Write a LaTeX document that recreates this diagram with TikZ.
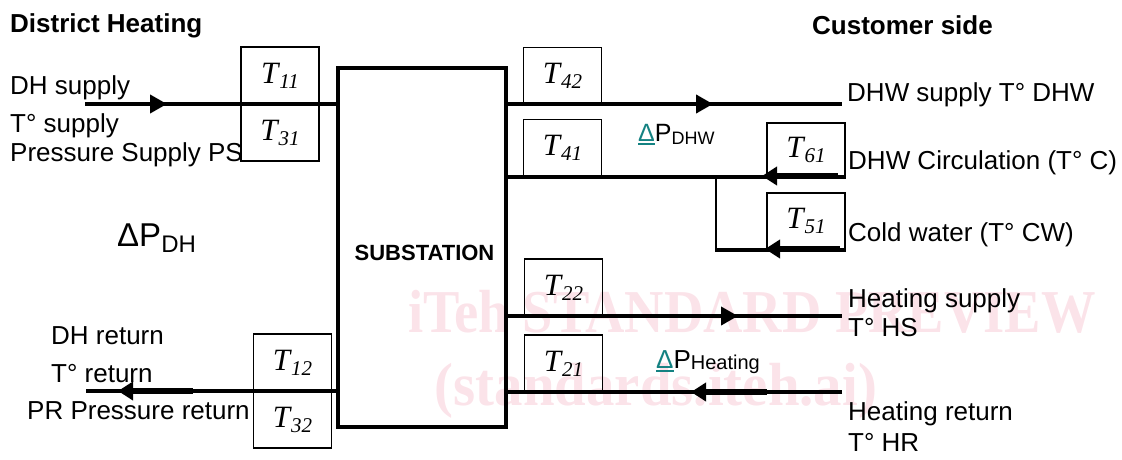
\documentclass[tikz,border=0pt]{standalone}
\usepackage[no-math]{fontspec}
\usepackage{graphicx}
\setmainfont{Liberation Sans}
\newfontfamily\wmfont{Liberation Serif}
\usetikzlibrary{arrows.meta,calc}
\definecolor{wmpink}{RGB}{251,227,233}
\definecolor{dteal}{RGB}{20,130,130}
\newcommand{\tdelta}{\textcolor{dteal}{\setbox0\hbox{Δ}\rlap{\rule[-3.5pt]{\wd0}{1.8pt}}\box0}}
\newcommand{\tlab}[1]{{\wmfont\itshape\fontsize{31}{34}\selectfont T\kern1pt\raisebox{-5pt}{\fontsize{21}{23}\selectfont #1}}}
\begin{document}
\begin{tikzpicture}[x=1pt,y=-1pt,
  txt/.style={anchor=base west, inner sep=0pt, font=\fontsize{26}{30}\selectfont},
  hdr/.style={anchor=base west, inner sep=0pt, font=\bfseries\fontsize{26}{30}\selectfont},
  tbox/.style={draw, line width=1.5pt, minimum width=78pt, minimum height=57pt, inner sep=0pt},
  subbox/.style={draw, line width=4pt, minimum width=168pt, minimum height=359pt, inner sep=0pt},
  wm/.style={anchor=base, inner sep=0pt, text=wmpink, font=\wmfont\bfseries\fontsize{58}{60}\selectfont},
  pipe/.style={line width=4pt},
  thin pipe/.style={line width=2pt},
  fwd/.style={line width=4pt, -{Triangle[length=17pt,width=18pt]}},
  back/.style={line width=6pt, -{Triangle[length=15pt,width=18pt]}},
]
\useasboundingbox (0,0) rectangle (1122,460);

% watermark
\node[wm] (wm1) at (752,332) {\scalebox{0.94}[1.05]{iTeh STANDARD PREVIEW}};
\node[wm] (wm2) at (656,405) {\scalebox{0.98}[1.05]{(standards.iteh.ai)}};

% headers
\node[hdr] (hdh) at (10,33) {District Heating};
\node[hdr] (hcs) at (812,35) {Customer side};

% substation
\node[subbox] (sub) at (422,247.5) {};
\node[anchor=base, inner sep=0pt, font=\bfseries\fontsize{22}{26}\selectfont] (sublbl) at (424.5,260) {SUBSTATION};

% T boxes
\node[tbox] (t11) at (280,75.5) {\tlab{11}};
\node[tbox] (t31) at (280,132.5) {\tlab{31}};
\node[tbox] (t42) at (562.5,76) {\tlab{42}};
\node[tbox] (t41) at (562.5,148) {\tlab{41}};
\node[tbox, minimum height=53pt] (t61) at (806,149.5) {\tlab{61}};
\node[tbox, minimum height=56pt] (t51) at (806,221) {\tlab{51}};
\node[tbox] (t22) at (563.5,287.5) {\tlab{22}};
\node[tbox] (t21) at (563.5,363.5) {\tlab{21}};
\node[tbox] (t12) at (292.5,362.5) {\tlab{12}};
\node[tbox] (t32) at (292.5,419.5) {\tlab{32}};

% coordinates
\coordinate (dhs) at (85,104);
\coordinate (dhsA) at (167,104);
\coordinate (dhsB) at (130,104);
\coordinate (dhr) at (86,391);
\coordinate (dhrA) at (118,391);
\coordinate (dhrB) at (193,391);
\coordinate (dhws) at (842,104);
\coordinate (dhwsA) at (713,104);
\coordinate (dhwsB) at (680,104);
\coordinate (circA) at (762,176);
\coordinate (circB) at (838,176);
\coordinate (jn) at (716,176);
\coordinate (cwA) at (765,249);
\coordinate (cwB) at (840,249);
\coordinate (hs) at (842,316);
\coordinate (hsA) at (738,316);
\coordinate (hsB) at (700,316);
\coordinate (hr) at (842,392);
\coordinate (hrA) at (691,392);
\coordinate (hrB) at (767,392);

% pipes
\draw[pipe] (dhs) -- (dhs -| sub.west);
\draw[pipe] (dhr -| sub.west) -- (dhr);
\draw[pipe] (dhws -| sub.east) -- (dhws);
\draw[pipe] (t61.south east) -- (t61.south east -| sub.east);
\draw[thin pipe] (jn) -- (jn |- t51.south);
\draw[pipe] ([xshift=-1pt]jn |- t51.south) -- (t51.south east);
\draw[pipe] (hs -| sub.east) -- (hs);
\draw[pipe] (hr) -- (hr -| sub.east);

% arrows
\draw[fwd] (dhsB) -- (dhsA);
\draw[back] (dhrB) -- (dhrA);
\draw[fwd] (dhwsB) -- (dhwsA);
\draw[back] (circB) -- (circA);
\draw[back] (cwB) -- (cwA);
\draw[fwd] (hsB) -- (hsA);
\draw[back] (hrB) -- (hrA);

% left texts
\node[txt] (l1) at (10,94) {DH supply};
\node[txt] (l2) at (10,132) {T° supply};
\node[txt] (l3) at (10,161) {Pressure Supply PS};
\node[txt] (l4) at (51,344) {DH return};
\node[txt] (l5) at (51,382) {T° return};
\node[txt] (l6) at (27,419) {PR Pressure return};

% right texts
\node[txt] (r1) at (847,102) {DHW supply T° DHW};
\node[txt] (r2) at (848,169) {DHW Circulation (T° C)};
\node[txt] (r3) at (848,241) {Cold water (T° CW)};
\node[txt] (r4) at (848,307) {Heating supply};
\node[txt] (r5) at (848,336) {T° HS};
\node[txt] (r6) at (848,420) {Heating return};
\node[txt] (r7) at (848,451) {T° HR};

% delta P labels
\node[anchor=base west, inner sep=0pt, font=\fontsize{33}{36}\selectfont] (dpdh) at (117,246)
  {ΔP\raisebox{-6pt}{\fontsize{24}{26}\selectfont DH}};
\node[anchor=base west, inner sep=0pt, font=\fontsize{25}{30}\selectfont] (dpdhw) at (638,141)
  {\tdelta P\raisebox{-3pt}{\fontsize{18}{20}\selectfont DHW}};
\node[anchor=base west, inner sep=0pt, font=\fontsize{26}{30}\selectfont] (dphe) at (656,368)
  {\tdelta P\raisebox{-1pt}{\fontsize{20}{22}\selectfont Heating}};
\end{tikzpicture}
\end{document}
